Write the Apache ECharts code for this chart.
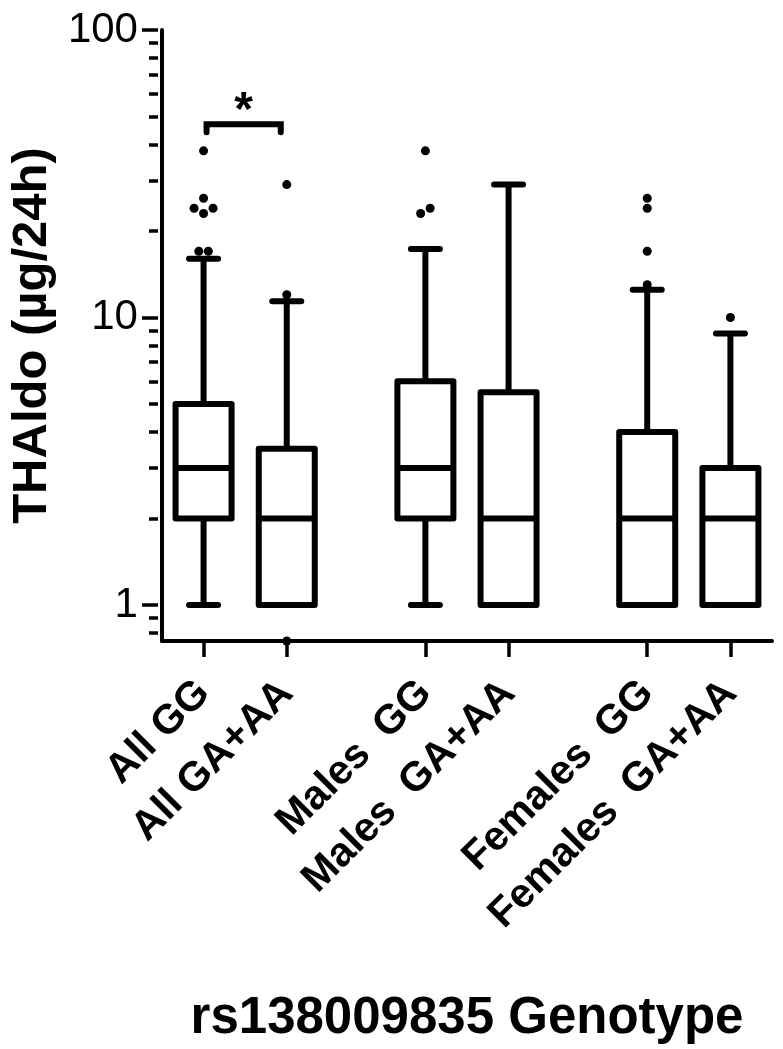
<!DOCTYPE html>
<html><head><meta charset="utf-8">
<script src="https://cdn.jsdelivr.net/npm/echarts@6/dist/echarts.min.js"></script>
<style>html,body{margin:0;padding:0;background:#fff}#c{width:783px;height:1049px}</style>
</head><body><div id="c"></div>
<script>
// ---------------- data ----------------
const categories = ['All GG', 'All GA+AA', 'Males  GG', 'Males  GA+AA', 'Females  GG', 'Females  GA+AA'];
const whiskerLow  = [1, 1, 1, 1, 1, 1];
const q1          = [2, 1, 2, 1, 1, 1];
const median      = [3, 2, 3, 2, 2, 2];
const q3          = [5, 3.5, 6, 5.5, 4, 3];
const whiskerHigh = [16, 11.4, 17.3, 29, 12.5, 8.8];
const outliers = [
  [38, 26, 24, 24, 23, 17, 17],
  [29, 12, 0.75],
  [38, 24, 23],
  [],
  [26, 24, 17, 13],
  [10]
];
const yTickValues = [1, 10, 100];
const yMinorTickValues = [0.8, 0.9, 2, 3, 4, 5, 6, 7, 8, 9, 20, 30, 40, 50, 60, 70, 80, 90];
const yMin = 0.75, yMax = 100;
const significance = [{ from: 0, to: 1, level: 47, text: '*' }];
const yTitle = 'THAldo (µg/24h)';
const xTitle = 'rs138009835 Genotype';

// ---------------- layout (slots on category axis) ----------------
const SLOT_COUNT = 22;
const slotOf = i => 1 + Math.floor(i / 2) * 8 + (i % 2) * 3;
const slotNames = [], slotLabel = {};
for (let s = 0; s < SLOT_COUNT; s++) slotNames.push('s' + s);
categories.forEach((c, i) => { slotLabel[slotOf(i)] = c; });

const FONT = '"Liberation Sans", Arial, Helvetica, sans-serif';
const BOX_W = 56, CAP_W = 29, LW = 6;
const GRID = { left: 158, right: 11, top: 30, bottom: 408 };

const boxData = categories.map((c, i) => [slotOf(i), whiskerLow[i], q1[i], median[i], q3[i], whiskerHigh[i]]);
const outlierPts = [];
outliers.forEach((arr, i) => arr.forEach(v => outlierPts.push({ cat: i, value: [slotOf(i), v] })));
const sigData = significance.map(s => [slotOf(s.from), slotOf(s.to), s.level, s.text]);

const chart = echarts.init(document.getElementById('c'), null, { renderer: 'canvas' });

const tickAxis = (vals, len) => ({
  type: 'value', min: Math.log10(yMin), max: Math.log10(yMax),
  axisLine: { show: false }, splitLine: { show: false }, axisLabel: { show: false },
  axisTick: { show: true, inside: false, length: len, customValues: vals.map(v => Math.log10(v)),
              lineStyle: { color: '#000', width: 3.5 } }
});
const hiddenX = gi => ({ type: 'value', gridIndex: gi, show: false, min: 0, max: 1 });

const option = {
  backgroundColor: '#fff',
  animation: false,
  grid: [Object.assign({}, GRID), Object.assign({}, GRID), Object.assign({}, GRID)],
  xAxis: [
    {
      type: 'category', gridIndex: 0, data: slotNames, boundaryGap: true,
      axisLine: { lineStyle: { color: '#000', width: 4 } },
      axisTick: { show: true, alignWithLabel: true, length: 16, lineStyle: { color: '#000', width: 3.5 },
                  interval: (idx) => slotLabel[idx] !== undefined },
      axisLabel: { interval: 0, rotate: 45, margin: 46, color: '#000', fontSize: 41, fontWeight: 'bold',
                   fontFamily: FONT, formatter: (v, idx) => slotLabel[idx] || '' },
      splitLine: { show: false },
      name: xTitle, nameLocation: 'middle', nameGap: 352,
      nameTextStyle: { color: '#000', fontSize: 51, fontWeight: 'bold', fontFamily: FONT }
    },
    hiddenX(1), hiddenX(2)
  ],
  yAxis: [
    {
      type: 'log', logBase: 10, gridIndex: 0, min: yMin, max: yMax,
      axisLine: { show: true, lineStyle: { color: '#000', width: 4 } },
      axisTick: { show: false }, splitLine: { show: false },
      axisLabel: { color: '#000', fontSize: 42, fontFamily: FONT, margin: 24,
                   formatter: v => (yTickValues.some(t => Math.abs(t - v) < 1e-9) ? String(v) : '') },
      name: yTitle, nameLocation: 'middle', nameRotate: 90, nameGap: 100,
      nameTextStyle: { color: '#000', fontSize: 49, fontWeight: 'bold', fontFamily: FONT }
    },
    Object.assign(tickAxis(yTickValues, 16), { gridIndex: 1 }),
    Object.assign(tickAxis(yMinorTickValues, 9), { gridIndex: 2 })
  ],
  series: [
    {
      type: 'custom', name: 'box', xAxisIndex: 0, yAxisIndex: 0,
      data: boxData, encode: { x: 0, y: [1, 2, 3, 4, 5] }, clip: false,
      renderItem: (params, api) => {
        const x = api.value(0);
        const pLo = api.coord([x, api.value(1)]);
        const pQ1 = api.coord([x, api.value(2)]);
        const pMd = api.coord([x, api.value(3)]);
        const pQ3 = api.coord([x, api.value(4)]);
        const pHi = api.coord([x, api.value(5)]);
        const cx = pQ1[0], hb = BOX_W / 2, hc = CAP_W / 2;
        const st = { stroke: '#000', lineWidth: LW, fill: null };
        const cap = { stroke: '#000', lineWidth: LW, lineCap: 'round', fill: null };
        return {
          type: 'group', children: [
            { type: 'line', shape: { x1: cx, y1: pQ3[1], x2: cx, y2: pHi[1] }, style: st },
            { type: 'line', shape: { x1: cx, y1: pQ1[1], x2: cx, y2: pLo[1] }, style: st },
            { type: 'line', shape: { x1: cx - hc, y1: pHi[1], x2: cx + hc, y2: pHi[1] }, style: cap },
            { type: 'line', shape: { x1: cx - hc, y1: pLo[1], x2: cx + hc, y2: pLo[1] }, style: cap },
            { type: 'rect', shape: { x: cx - hb, y: pQ3[1], width: BOX_W, height: pQ1[1] - pQ3[1] },
              style: { stroke: '#000', lineWidth: LW, fill: '#fff', lineJoin: 'round' } },
            { type: 'line', shape: { x1: cx - hb, y1: pMd[1], x2: cx + hb, y2: pMd[1] }, style: st }
          ]
        };
      }
    },
    {
      type: 'scatter', name: 'outliers', xAxisIndex: 0, yAxisIndex: 0, clip: false,
      symbol: 'circle', symbolSize: 9, itemStyle: { color: '#000', opacity: 1 },
      data: outlierPts.map(p => ({ value: p.value }))
    },
    {
      type: 'custom', name: 'significance', xAxisIndex: 0, yAxisIndex: 0, clip: false,
      data: sigData, encode: { x: [0, 1], y: 2 },
      renderItem: (params, api) => {
        const a = api.coord([api.value(0), api.value(2)]);
        const b = api.coord([api.value(1), api.value(2)]);
        const x1 = a[0] + 3, x2 = b[0] - 6, y = a[1], leg = 8;
        return {
          type: 'group', children: [
            { type: 'polyline', shape: { points: [[x1, y + leg], [x1, y], [x2, y], [x2, y + leg]] },
              style: { stroke: '#000', lineWidth: 6, fill: null, lineCap: 'round', lineJoin: 'miter' } },
            { type: 'text', x: (x1 + x2) / 2, y: y - 13,
              style: { text: sigData[params.dataIndex][3], fill: '#000', fontSize: 48, fontWeight: 'bold',
                       fontFamily: FONT, align: 'center', verticalAlign: 'middle' } }
          ]
        };
      }
    }
  ]
};
chart.setOption(option);

// second pass: spread overlapping outlier dots sideways (beeswarm-like)
const STEP = 9.5, GAP = 9;
const offsets = outlierPts.map(() => [0, 0]);
categories.forEach((c, ci) => {
  const idx = outlierPts.map((p, k) => k).filter(k => outlierPts[k].cat === ci);
  if (!idx.length) return;
  const py = {};
  idx.forEach(k => { py[k] = chart.convertToPixel({ xAxisIndex: 0, yAxisIndex: 0 }, outlierPts[k].value)[1]; });
  idx.sort((a, b) => py[a] - py[b]);
  const clusters = [[idx[0]]];
  for (let j = 1; j < idx.length; j++) {
    if (py[idx[j]] - py[idx[j - 1]] < GAP) clusters[clusters.length - 1].push(idx[j]);
    else clusters.push([idx[j]]);
  }
  clusters.forEach(cl => {
    const n = cl.length;
    let pattern;
    if (n === 1) pattern = [0];
    else if (n === 2) pattern = [STEP / 2, -STEP / 2];
    else if (n === 3) pattern = [-STEP, STEP, 0];
    else pattern = cl.map((k, j) => (j - (n - 1) / 2) * STEP);
    cl.forEach((k, j) => { offsets[k] = [pattern[j], 0]; });
  });
});
chart.setOption({ series: [{}, { data: outlierPts.map((p, k) => ({ value: p.value, symbolOffset: offsets[k] })) }, {}] });
</script></body></html>
